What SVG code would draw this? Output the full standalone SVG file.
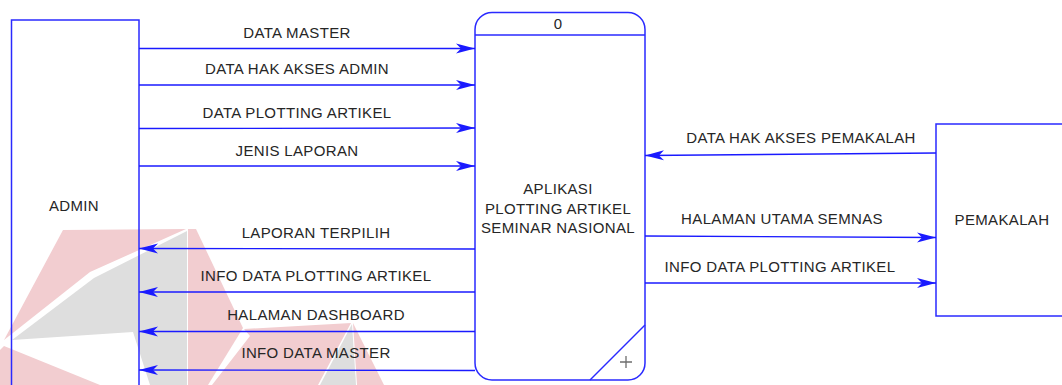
<svg xmlns="http://www.w3.org/2000/svg" width="1062" height="385" viewBox="0 0 1062 385">
  <defs>
    <marker id="arrow" markerUnits="userSpaceOnUse" markerWidth="20" markerHeight="12" refX="19" refY="6" orient="auto">
      <path d="M0,1 L19,6 L0,11 L5,6 Z" fill="#1a1aff"/>
    </marker>
    <style>
      .box { fill: none; stroke: #2a2aff; stroke-width: 1.5; }
      .flow { fill: none; stroke: #1a1aff; stroke-width: 1.4; marker-end: url(#arrow); }
      .lbl { font-family: "Liberation Sans", Arial, sans-serif; font-size: 15px; fill: #262626; text-anchor: middle; letter-spacing: 0.35px; }
      .wm-red { fill: #f2cdd0; }
      .wm-gray { fill: #dedede; }
    </style>
  </defs>

  <rect width="1062" height="385" fill="#ffffff"/>

  <!-- faint background logo -->
  <g id="watermark">
    <polygon class="wm-red" points="63,230 186,229 90,272 4,340"/>
    <polygon class="wm-gray" points="187,231 187,385 150,385 133,332 12,340 94,278"/>
    <polygon class="wm-red" points="4,346 100,385 0,385 0,350"/>
    <polygon class="wm-red" points="188,229 196,229 243,328 208,385 188,385"/>
    <polygon class="wm-red" points="244,329 351,323 318,385 212,385 250,336"/>
    <polygon class="wm-gray" points="352,324 356,385 320,385"/>
    <polygon class="wm-red" points="353,323 384,385 357,385"/>
  </g>

  <!-- external entity: ADMIN -->
  <g id="admin">
    <rect class="box" x="11.5" y="20" width="127.5" height="380"/>
    <text class="lbl" x="74" y="211">ADMIN</text>
  </g>

  <!-- process 0 -->
  <g id="process-0">
    <rect class="box" x="475" y="12.5" width="170" height="367.5" rx="17" ry="17"/>
    <line class="box" x1="475" y1="35" x2="645" y2="35"/>
    <text class="lbl" x="558" y="29">0</text>
    <text class="lbl" x="558" y="194">APLIKASI</text>
    <text class="lbl" x="558" y="214">PLOTTING ARTIKEL</text>
    <text class="lbl" x="558" y="233">SEMINAR NASIONAL</text>
    <line class="box" x1="590" y1="380" x2="645" y2="325"/>
    <path d="M626,356 V368 M620,362 H632" stroke="#6e6e6e" stroke-width="1.3" fill="none"/>
  </g>

  <!-- external entity: PEMAKALAH -->
  <g id="pemakalah">
    <rect class="box" x="936" y="124" width="140" height="192"/>
    <text class="lbl" x="1002" y="225">PEMAKALAH</text>
  </g>

  <!-- data flows -->
  <g id="flows">
    <line class="flow" x1="139" y1="48.5" x2="475" y2="48.5"/>
    <line class="flow" x1="139" y1="85" x2="475" y2="85"/>
    <line class="flow" x1="139" y1="128.5" x2="475" y2="128"/>
    <line class="flow" x1="139" y1="166" x2="475" y2="166"/>

    <line class="flow" x1="475" y1="249" x2="139" y2="248.5"/>
    <line class="flow" x1="475" y1="292" x2="139" y2="292"/>
    <line class="flow" x1="475" y1="331.5" x2="139" y2="331.5"/>
    <line class="flow" x1="475" y1="370.5" x2="139" y2="370"/>

    <line class="flow" x1="936" y1="153" x2="645" y2="155.5"/>
    <line class="flow" x1="645" y1="236" x2="936" y2="237.5"/>
    <line class="flow" x1="645" y1="283" x2="936" y2="283"/>
  </g>

  <!-- flow labels -->
  <g id="flow-labels">
    <text class="lbl" x="297" y="38">DATA MASTER</text>
    <text class="lbl" x="297" y="74">DATA HAK AKSES ADMIN</text>
    <text class="lbl" x="297" y="118">DATA PLOTTING ARTIKEL</text>
    <text class="lbl" x="297" y="156">JENIS LAPORAN</text>
    <text class="lbl" x="316" y="238">LAPORAN TERPILIH</text>
    <text class="lbl" x="316" y="281">INFO DATA PLOTTING ARTIKEL</text>
    <text class="lbl" x="316" y="320">HALAMAN DASHBOARD</text>
    <text class="lbl" x="316" y="358">INFO DATA MASTER</text>
    <text class="lbl" x="801" y="143">DATA HAK AKSES PEMAKALAH</text>
    <text class="lbl" x="782" y="224">HALAMAN UTAMA SEMNAS</text>
    <text class="lbl" x="780" y="272">INFO DATA PLOTTING ARTIKEL</text>
  </g>
</svg>
